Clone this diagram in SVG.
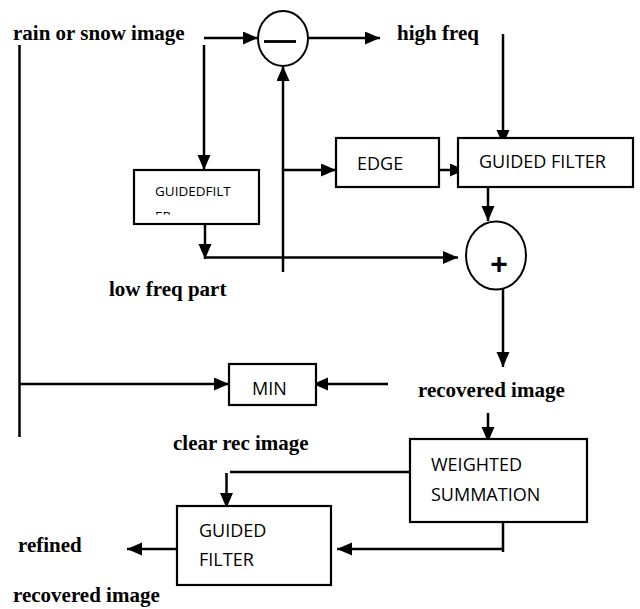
<svg xmlns="http://www.w3.org/2000/svg" width="640" height="609" viewBox="0 0 640 609">
  <style>
    .box { fill: #fff; stroke: #000; stroke-width: 2.2; }
    .op { fill: #fff; stroke: #000; stroke-width: 2; }
    .wire { fill: none; stroke: #000; stroke-width: 2.5; }
    .arrow { marker-end: url(#head); }
    .lbl { font-family: "Liberation Serif", "Times New Roman", serif; font-weight: bold; font-size: 21px; fill: #000; }
    .blk { font-family: "Open Sans", "Liberation Sans", sans-serif; font-size: 18px; fill: #000; }
    .sm { font-size: 13.5px; }
  </style>
  <defs>
    <marker id="head" markerUnits="userSpaceOnUse" markerWidth="16" markerHeight="14" refX="15" refY="6.5" orient="auto">
      <path d="M0,0 L15,6.5 L0,13 z" fill="#000"/>
    </marker>
    <clipPath id="gf-clip">
      <rect x="134" y="170" width="125" height="44.5"/>
    </clipPath>
  </defs>

  <!-- free-standing labels -->
  <g id="labels">
    <text class="lbl" x="13" y="40">rain or snow image</text>
    <text class="lbl" x="397" y="40">high freq</text>
    <text class="lbl" x="109" y="296">low freq part</text>
    <text class="lbl" x="418" y="397">recovered image</text>
    <text class="lbl" x="173" y="450">clear rec image</text>
    <text class="lbl" x="18" y="552">refined</text>
    <text class="lbl" x="13" y="602">recovered image</text>
  </g>

  <!-- connectors -->
  <g id="connectors">
    <path class="wire" d="M19.5,45 V437"/>
    <path class="wire arrow" d="M19.5,384 H229"/>
    <path class="wire arrow" d="M204,38 H258"/>
    <path class="wire arrow" d="M204,45 V170"/>
    <path class="wire arrow" d="M307,38 H380"/>
    <path class="wire arrow" d="M503,34 V145"/>
    <path class="wire arrow" d="M283,272 V66"/>
    <path class="wire arrow" d="M283,170 H336"/>
    <path class="wire arrow" d="M439,170 H465"/>
    <path class="wire arrow" d="M205,222 V259"/>
    <path class="wire arrow" d="M205,257.5 H458"/>
    <path class="wire arrow" d="M488,183 V221"/>
    <path class="wire arrow" d="M503,283 V367"/>
    <path class="wire arrow" d="M388,384 H313"/>
    <path class="wire arrow" d="M488,413 V442"/>
    <path class="wire" d="M413,472 H230"/>
    <path class="wire arrow" d="M226.5,473 V508"/>
    <path class="wire" d="M503,522 V552"/>
    <path class="wire arrow" d="M503,549 H337"/>
    <path class="wire arrow" d="M177,549 H127"/>
  </g>

  <!-- subtractor -->
  <g id="minus">
    <ellipse class="op" cx="283" cy="38.5" rx="25" ry="27.5"/>
    <line x1="264" y1="41.5" x2="296" y2="41.5" stroke="#000" stroke-width="2.8"/>
  </g>

  <!-- adder -->
  <g id="plus">
    <ellipse class="op" cx="496" cy="255.5" rx="30" ry="34"/>
    <text x="499" y="274" text-anchor="middle" font-family="Liberation Sans, Arial, sans-serif" font-weight="bold" font-size="30">+</text>
  </g>

  <g id="guided-low">
    <rect class="box" x="134" y="170" width="125" height="54"/>
    <g clip-path="url(#gf-clip)">
      <text class="blk sm" x="155" y="196">GUIDEDFILT</text>
      <text class="blk sm" x="155" y="221">ER</text>
    </g>
  </g>

  <g id="edge">
    <rect class="box" x="336" y="138" width="103" height="49"/>
    <text class="blk" x="357" y="170">EDGE</text>
  </g>

  <g id="guided-high">
    <rect class="box" x="458" y="138" width="175" height="49"/>
    <text class="blk" x="479" y="168">GUIDED FILTER</text>
  </g>

  <g id="min">
    <rect class="box" x="229" y="364" width="87" height="41"/>
    <text class="blk" x="252" y="395">MIN</text>
  </g>

  <g id="weighted">
    <rect class="box" x="410" y="439" width="177" height="83"/>
    <text class="blk" x="431" y="471">WEIGHTED</text>
    <text class="blk" x="431" y="501">SUMMATION</text>
  </g>

  <g id="guided-out">
    <rect class="box" x="177" y="506" width="154" height="79"/>
    <text class="blk" x="199" y="537">GUIDED</text>
    <text class="blk" x="199" y="566">FILTER</text>
  </g>
</svg>
